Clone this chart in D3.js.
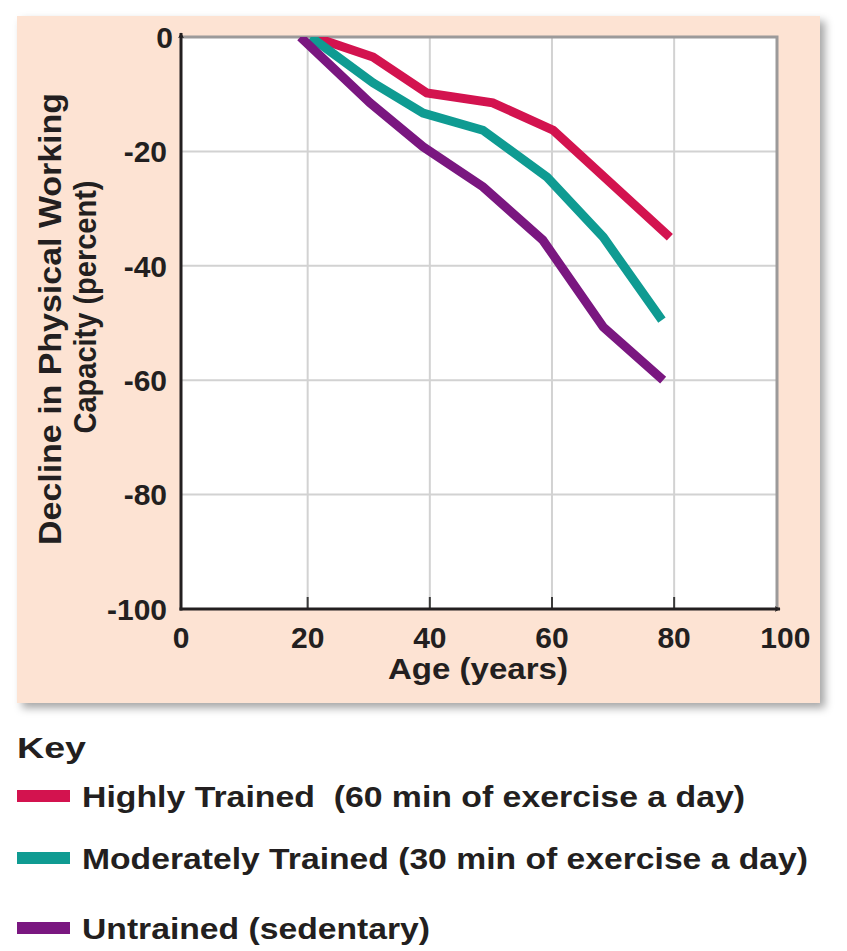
<!DOCTYPE html>
<html><head><meta charset="utf-8">
<script src="https://cdn.jsdelivr.net/npm/d3@7"></script>
<style>
html,body{margin:0;padding:0;background:#fff;}
svg text{font-family:"Liberation Sans",Arial,Helvetica,sans-serif;font-weight:bold;fill:#231f20;}
</style></head>
<body>
<svg id="c" width="847" height="951"></svg>
<script>
// ---- data ----
const seriesNames = ["Highly Trained  (60 min of exercise a day)", "Moderately Trained (30 min of exercise a day)", "Untrained (sedentary)"];
const seriesColors = ["#d3134f", "#0f9b92", "#7a1780"];
const highlyAge = [21, 30.7, 39.5, 50.3, 60.2, 79.3];
const highlyVal = [0, -3.5, -9.8, -11.5, -16.3, -35];
const moderateAge = [20.5, 30.7, 38.9, 48.7, 59.2, 68.4, 78];
const moderateVal = [0, -8, -13.3, -16.3, -24.5, -35, -49.5];
const untrainedAge = [18.8, 30.2, 38.9, 48.7, 58.5, 68.4, 78.2];
const untrainedVal = [0, -11.5, -19.2, -26.2, -35.5, -50.7, -60];
const xTicks = [0, 20, 40, 60, 80, 100];
const yTicks = [0, -20, -40, -60, -80, -100];
const xTitle = "Age (years)";
const yTitle = ["Decline in Physical Working", "Capacity (percent)"];
const keyTitle = "Key";

const series = [
  {name: seriesNames[0], color: seriesColors[0], pts: highlyAge.map((a,i)=>[a, highlyVal[i]])},
  {name: seriesNames[1], color: seriesColors[1], pts: moderateAge.map((a,i)=>[a, moderateVal[i]])},
  {name: seriesNames[2], color: seriesColors[2], pts: untrainedAge.map((a,i)=>[a, untrainedVal[i]])}
];

const svg = d3.select("#c");
const x = d3.scaleLinear().domain([0, 100]).range([185.5, 796.3]);
const y = d3.scaleLinear().domain([0, -100]).range([37, 609]);
const plotL = 181, plotR = 777, plotT = y(0), plotB = y(-100);

// shadow filter
const defs = svg.append("defs");
const f = defs.append("filter").attr("id","sh").attr("x","-5%").attr("y","-5%").attr("width","115%").attr("height","115%");
f.append("feDropShadow").attr("dx",5).attr("dy",5).attr("stdDeviation",4).attr("flood-color","#000").attr("flood-opacity",0.35);
defs.append("clipPath").attr("id","clip").append("rect")
  .attr("x",plotL).attr("y",plotT).attr("width",plotR-plotL).attr("height",plotB-plotT);
defs.append("marker").attr("id","arr").attr("viewBox","0 0 10 10").attr("refX",9).attr("refY",5)
  .attr("markerWidth",6).attr("markerHeight",6).attr("markerUnits","userSpaceOnUse")
  .attr("orient","auto").append("path").attr("d","M0,0 L10,5 L0,10 L2.5,5 Z").attr("fill","#231f20");

// panel
svg.append("rect").attr("x",17).attr("y",16).attr("width",803).attr("height",687)
  .attr("fill","#fde3d3").attr("filter","url(#sh)");
svg.append("rect").attr("x",plotL).attr("y",plotT).attr("width",plotR-plotL).attr("height",plotB-plotT).attr("fill","#fff");

// grid
const g = svg.append("g");
g.selectAll(".vg").data(xTicks.filter(d=>d>0 && d<100)).enter().append("line")
  .attr("x1",d=>x(d)).attr("x2",d=>x(d)).attr("y1",plotT).attr("y2",plotB)
  .attr("stroke","#d2d2d2").attr("stroke-width",2);
g.selectAll(".hg").data(yTicks.filter(d=>d<0 && d>-100)).enter().append("line")
  .attr("x1",plotL).attr("x2",plotR).attr("y1",d=>y(d)).attr("y2",d=>y(d))
  .attr("stroke","#d2d2d2").attr("stroke-width",2);
// x tick marks
g.selectAll(".xt").data(xTicks.filter(d=>d>0 && d<100)).enter().append("line")
  .attr("x1",d=>x(d)).attr("x2",d=>x(d)).attr("y1",plotB).attr("y2",plotB-12)
  .attr("stroke","#3a3a3a").attr("stroke-width",2);

// frame top/right
svg.append("path").attr("d",`M${plotL},${plotT}H${plotR}V${plotB}`).attr("fill","none")
  .attr("stroke","#9c9a9a").attr("stroke-width",3);

// lines
const line = d3.line().x(d=>x(d[0])).y(d=>y(d[1]));
svg.append("g").attr("clip-path","url(#clip)").selectAll("path").data(series).enter().append("path")
  .attr("d",d=>line(d.pts)).attr("fill","none").attr("stroke",d=>d.color)
  .attr("stroke-width",9).attr("stroke-linejoin","miter").attr("stroke-linecap","butt");

// axes
svg.append("line").attr("x1",plotL).attr("y1",plotB+1.5).attr("x2",plotL).attr("y2",plotT-4)
  .attr("stroke","#231f20").attr("stroke-width",3).attr("marker-end","url(#arr)");
svg.append("line").attr("x1",plotL-1.5).attr("y1",plotB).attr("x2",plotR+3).attr("y2",plotB)
  .attr("stroke","#231f20").attr("stroke-width",3).attr("marker-end","url(#arr)");

// tick labels
svg.append("g").selectAll("text").data(yTicks).enter().append("text")
  .attr("x",d=>d===0?173:167).attr("y",d=>y(d)).attr("dy","0.36em")
  .attr("text-anchor","end").attr("font-size",30).text(d=>d);
svg.append("g").selectAll("text").data(xTicks).enter().append("text")
  .attr("x",d=>x(d)+(d===0?-4.5:(d===100?-11:0))).attr("y",648)
  .attr("text-anchor","middle").attr("font-size",30).text(d=>d);

// axis titles
svg.append("text").attr("x",478).attr("y",679).attr("text-anchor","middle").attr("font-size",30)
  .attr("textLength",180).attr("lengthAdjust","spacingAndGlyphs").text(xTitle);
svg.append("text").attr("transform","translate(61,319) rotate(-90)").attr("text-anchor","middle")
  .attr("font-size",31).attr("textLength",452).attr("lengthAdjust","spacingAndGlyphs").text(yTitle[0]);
svg.append("text").attr("transform","translate(96,307) rotate(-90)").attr("text-anchor","middle")
  .attr("font-size",31).attr("textLength",253).attr("lengthAdjust","spacingAndGlyphs").text(yTitle[1]);

// legend
svg.append("text").attr("x",17).attr("y",758).attr("font-size",29).attr("font-weight",900)
  .attr("textLength",69).attr("lengthAdjust","spacingAndGlyphs").text(keyTitle);
const legY = [796, 858, 928];
const legW = [663, 726, 348];
const leg = svg.append("g").selectAll("g").data(series).enter().append("g")
  .attr("transform",(d,i)=>`translate(0,${legY[i]})`);
leg.append("rect").attr("x",17).attr("y",-6).attr("width",53).attr("height",12).attr("fill",d=>d.color);
leg.append("text").attr("x",82).attr("y",11).attr("font-size",29)
  .attr("textLength",(d,i)=>legW[i]).attr("lengthAdjust","spacingAndGlyphs").text(d=>d.name)
  .style("white-space","pre");
</script>
</body></html>
